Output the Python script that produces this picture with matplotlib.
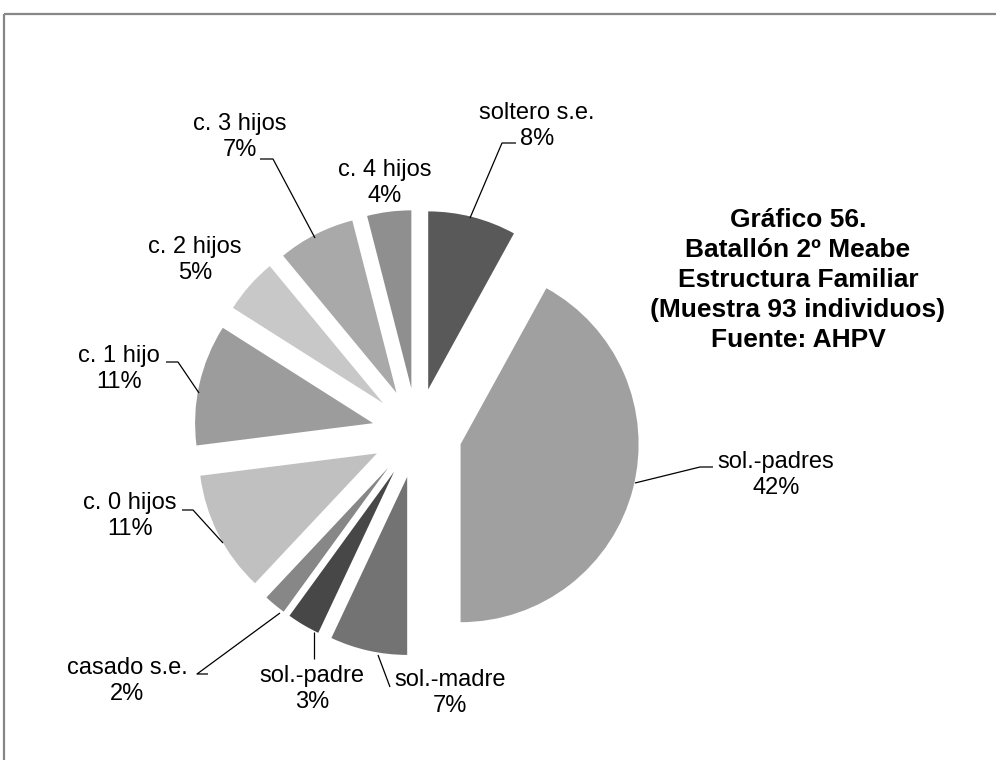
import matplotlib
matplotlib.use("Agg")
import matplotlib.pyplot as plt

# ---- data ----
categories = ["soltero s.e.", "sol.-padres", "sol.-madre", "sol.-padre", "casado s.e.",
              "c. 0 hijos", "c. 1 hijo", "c. 2 hijos", "c. 3 hijos", "c. 4 hijos"]
percentages = [8, 42, 7, 3, 2, 11, 11, 5, 7, 4]
colors = ["#595959", "#a0a0a0", "#737373", "#474747", "#878787",
          "#c0c0c0", "#9c9c9c", "#c8c8c8", "#a9a9a9", "#8f8f8f"]
title_lines = ["Gráfico 56.", "Batallón 2º Meabe", "Estructura Familiar",
               "(Muestra 93 individuos)", "Fuente: AHPV"]

# ---- layout (pixel coordinates, y from top) ----
W, H = 996, 760
label_pos = [(537, 126), (776, 475), (450, 693), (312, 689), (127, 681),
             (130, 516), (119, 369), (195, 260), (240, 137), (385, 183)]
leaders = [
    [(516, 143), (502, 143), (470, 218)],
    [(713, 467), (700, 467), (635, 483)],
    [(390, 687), (378, 655)],
    [(314, 659), (314, 632)],
    [(208, 674), (197, 674), (280, 613)],
    [(182, 510), (193, 510), (223, 543)],
    [(166, 362), (178, 362), (199, 393)],
    None,
    [(260, 159), (273, 159), (315, 238)],
    None,
]

plt.rcParams['font.family'] = ['Liberation Sans', 'DejaVu Sans']

fig = plt.figure(figsize=(W / 100, H / 100), dpi=100)
ax = fig.add_axes([0, 0, 1, 1])


def Y(py):
    return H - py


cx, cy, R, EXP = 417, 433, 178, 45
ax.pie(percentages, colors=colors, startangle=90, counterclock=False,
       radius=R, center=(cx, Y(cy)), explode=[EXP] * len(percentages),
       wedgeprops=dict(linewidth=0))
ax.set_xlim(0, W)
ax.set_ylim(0, H)
ax.set_aspect('equal')
ax.axis('off')

gap = 26
for cat, pct, (x, y), ld in zip(categories, percentages, label_pos, leaders):
    ax.text(x, Y(y - gap / 2), cat, ha='center', va='center', fontsize=17, color='#000000')
    ax.text(x, Y(y + gap / 2), f"{pct}%", ha='center', va='center', fontsize=17, color='#000000')
    if ld is not None:
        xs = [p[0] for p in ld]
        ys = [Y(p[1]) for p in ld]
        ax.plot(xs, ys, color='#000000', lw=0.9, solid_capstyle='butt')

ty0, tstep, tx = 220, 30, 798
for i, line in enumerate(title_lines):
    ax.text(tx, Y(ty0 + i * tstep), line, ha='center', va='center',
            fontsize=19, fontweight='bold', color='#000000')

# outer chart frame (only top and left edges visible)
ax.plot([4, W], [Y(14), Y(14)], color='#878787', lw=1.6, solid_capstyle='butt')
ax.plot([4, 4], [Y(14), 0], color='#878787', lw=1.6, solid_capstyle='butt')

fig.savefig("out.png", dpi=100, facecolor='white')
